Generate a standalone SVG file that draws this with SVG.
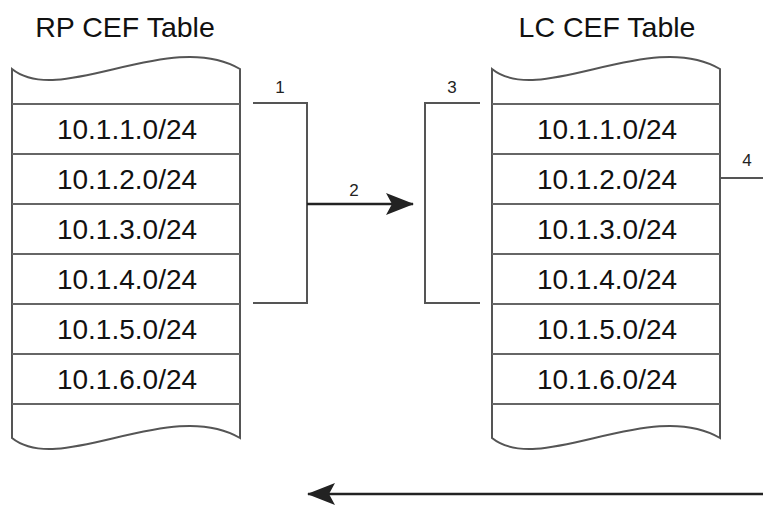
<svg xmlns="http://www.w3.org/2000/svg" width="763" height="505" viewBox="0 0 763 505">
<style>
.tbl{fill:#fff;stroke:#555;stroke-width:2}
.row{stroke:#666;stroke-width:2.2}
.t{font-family:"Liberation Sans",Arial,sans-serif;font-size:28px;fill:#111;text-anchor:middle}
.h{font-family:"Liberation Sans",Arial,sans-serif;font-size:28.5px;fill:#111;text-anchor:middle}
.n{font-family:"Liberation Sans",Arial,sans-serif;font-size:17px;fill:#222;text-anchor:middle}
.br{fill:none;stroke:#555;stroke-width:2}
.ar{fill:none;stroke:#222;stroke-width:2.5}
</style>
<defs>
<marker id="ahb" markerWidth="28" markerHeight="22" viewBox="0 0 28 22" refX="27" refY="11" orient="auto" markerUnits="userSpaceOnUse">
<path d="M0,0 L28,11 L0,22 L6,11 Z" fill="#222"/>
</marker>
</defs>
<g id="rp-table">
<text class="h" x="125" y="37">RP CEF Table</text>
<path class="tbl" d="M12,69 C60,108 170,28 240,69 L240,438 C170,397 60,477 12,438 Z"/>
<g class="row">
<line x1="12" y1="104" x2="240" y2="104"/>
<line x1="12" y1="154" x2="240" y2="154"/>
<line x1="12" y1="204" x2="240" y2="204"/>
<line x1="12" y1="254" x2="240" y2="254"/>
<line x1="12" y1="304" x2="240" y2="304"/>
<line x1="12" y1="354" x2="240" y2="354"/>
<line x1="12" y1="404" x2="240" y2="404"/>
</g>
<text class="t" x="127" y="139">10.1.1.0/24</text>
<text class="t" x="127" y="189">10.1.2.0/24</text>
<text class="t" x="127" y="239">10.1.3.0/24</text>
<text class="t" x="127" y="289">10.1.4.0/24</text>
<text class="t" x="127" y="339">10.1.5.0/24</text>
<text class="t" x="127" y="389">10.1.6.0/24</text>
</g>
<g id="lc-table">
<text class="h" x="607" y="37">LC CEF Table</text>
<path class="tbl" d="M492,69 C540,108 650,28 720,69 L720,438 C650,397 540,477 492,438 Z"/>
<g class="row">
<line x1="492" y1="104" x2="720" y2="104"/>
<line x1="492" y1="154" x2="720" y2="154"/>
<line x1="492" y1="204" x2="720" y2="204"/>
<line x1="492" y1="254" x2="720" y2="254"/>
<line x1="492" y1="304" x2="720" y2="304"/>
<line x1="492" y1="354" x2="720" y2="354"/>
<line x1="492" y1="404" x2="720" y2="404"/>
</g>
<text class="t" x="607" y="139">10.1.1.0/24</text>
<text class="t" x="607" y="189">10.1.2.0/24</text>
<text class="t" x="607" y="239">10.1.3.0/24</text>
<text class="t" x="607" y="289">10.1.4.0/24</text>
<text class="t" x="607" y="339">10.1.5.0/24</text>
<text class="t" x="607" y="389">10.1.6.0/24</text>
</g>
<g id="connectors">
<path class="br" d="M253,103 H307 V303 H253"/>
<text class="n" x="280" y="93">1</text>
<line class="ar" x1="307" y1="204" x2="413" y2="204" marker-end="url(#ahb)"/>
<text class="n" x="354" y="196">2</text>
<path class="br" d="M480,103 H425 V303 H480"/>
<text class="n" x="452" y="93">3</text>
<line class="br" x1="720" y1="178" x2="763" y2="178"/>
<text class="n" x="747" y="166">4</text>
<line class="ar" x1="763" y1="494" x2="308" y2="494" marker-end="url(#ahb)"/>
</g>
</svg>
